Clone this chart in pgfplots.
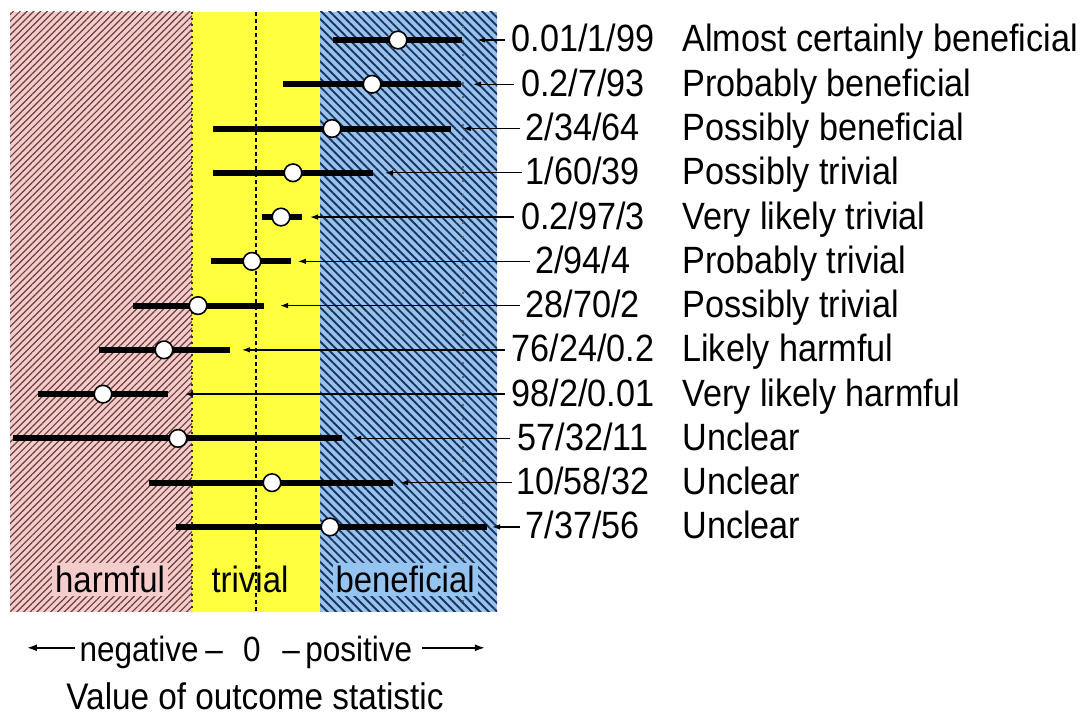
\documentclass[border=0pt]{standalone}
\usepackage{fontspec}
\setmainfont{Liberation Sans}
\newfontfamily\narrowfont[FakeStretch=0.9]{Liberation Sans}
\usepackage{pgfplots}
\pgfplotsset{compat=1.18}
\usepackage{pgfplotstable}
\usetikzlibrary{patterns.meta,arrows.meta}
\definecolor{pinkc}{RGB}{244,204,204}
\definecolor{pinkh}{RGB}{110,60,60}
\definecolor{yelc}{RGB}{255,255,64}
\definecolor{bluec}{RGB}{150,196,240}
\definecolor{blueh}{RGB}{30,50,90}

% row, lower limit, point estimate, upper limit (units of smallest important effect)
\pgfplotstableread{
row lo pt hi start du
1 1.203 2.219 3.219 3.89 -0.437
2 0.422 1.813 3.203 4.03 -0.639
3 -0.672 1.188 3.047 4.125 -0.891
4 -0.672 0.578 1.828 4.156 -2.140
5 0.094 0.391 0.719 4.03 -3.186
6 -0.703 -0.063 0.547 4.281 -3.625
7 -1.922 -0.906 0.125 4.125 -3.750
8 -2.453 -1.438 -0.406 3.89 -4.109
9 -3.406 -2.391 -1.375 3.89 -4.999
10 -3.797 -1.219 1.344 3.97 -2.454
11 -1.672 0.250 2.141 4.0 -1.750
12 -1.250 1.156 3.609 4.125 -0.437
}\ci

\begin{document}
\begin{tikzpicture}
\begin{axis}[
  scale only axis,
  width=243.5pt, height=300pt,
  xmin=-3.84375, xmax=3.765625,
  ymin=0.3675, ymax=13.921,
  y dir=reverse,
  axis lines=none,
  clip=false,
]
% bounding box of the whole figure
\path (axis cs:-4,0.0965) rectangle (axis cs:13.047,16.293);

% bands
\addplot[draw=none, fill=pinkc] coordinates {(-3.84375,0.3675) (-1,0.3675) (-1,13.921) (-3.84375,13.921)} -- cycle;
\addplot[draw=none, pattern={Lines[angle=45,distance=2.4pt,line width=0.6pt]}, pattern color=pinkh] coordinates {(-3.84375,0.3675) (-1,0.3675) (-1,13.921) (-3.84375,13.921)} -- cycle;
\addplot[draw=none, fill=yelc] coordinates {(-1,0.3675) (1,0.3675) (1,13.921) (-1,13.921)} -- cycle;
\addplot[draw=none, fill=bluec] coordinates {(1,0.3675) (3.765625,0.3675) (3.765625,13.921) (1,13.921)} -- cycle;
\addplot[draw=none, pattern={Lines[angle=-45,distance=3pt,line width=0.95pt]}, pattern color=blueh] coordinates {(1,0.3675) (3.765625,0.3675) (3.765625,13.921) (1,13.921)} -- cycle;

% reference lines
\addplot[black, line width=0.6pt, dash pattern=on 2pt off 1.5pt] coordinates {(0,0.3675) (0,13.921)};
\addplot[black!80, line width=0.6pt, dash pattern=on 1pt off 2pt] coordinates {(-1,0.3675) (-1,13.921)};
\addplot[black!60, line width=0.6pt, dash pattern=on 1pt off 6pt] coordinates {(3.234,0.3675) (3.234,13.921)};

% band labels
\begin{scope}[every node/.style={inner sep=1.5pt, anchor=base, font=\narrowfont\fontsize{18.3}{20}\selectfont}]
\node[fill=pinkc] at (axis cs:-2.28,13.49) {harmful};
\node at (axis cs:-0.094,13.49) {trivial};
\node[fill=bluec] at (axis cs:2.33,13.49) {beneficial};
\end{scope}

% arrows from labels
\addplot[black, line width=0.65pt, quiver={u=\thisrow{du}, v=0}, -{Latex[length=4pt,width=2.8pt]}] table[x=start, y=row] {\ci};

% confidence intervals and point estimates
\addplot[only marks, mark=*, mark size=4.4pt,
  mark options={fill=white, draw=black, line width=0.8pt},
  error bars/.cd, x dir=both, x explicit, error mark=none,
  error bar style={line width=3pt, black}]
  table[x=pt, y=row, x error plus expr=\thisrow{hi}-\thisrow{pt}, x error minus expr=\thisrow{pt}-\thisrow{lo}] {\ci};

% right-hand labels
\begin{scope}[every node/.style={font=\narrowfont\fontsize{19}{22}\selectfont, inner sep=0pt}]
\node[anchor=base] at (axis cs:5.109,1.271) {0.01/1/99};
\node[anchor=base] at (axis cs:5.109,2.271) {0.2/7/93};
\node[anchor=base] at (axis cs:5.109,3.271) {2/34/64};
\node[anchor=base] at (axis cs:5.109,4.271) {1/60/39};
\node[anchor=base] at (axis cs:5.109,5.271) {0.2/97/3};
\node[anchor=base] at (axis cs:5.109,6.271) {2/94/4};
\node[anchor=base] at (axis cs:5.109,7.271) {28/70/2};
\node[anchor=base] at (axis cs:5.109,8.271) {76/24/0.2};
\node[anchor=base] at (axis cs:5.109,9.271) {98/2/0.01};
\node[anchor=base] at (axis cs:5.109,10.271) {57/32/11};
\node[anchor=base] at (axis cs:5.109,11.271) {10/58/32};
\node[anchor=base] at (axis cs:5.109,12.271) {7/37/56};
\node[anchor=base west] at (axis cs:6.656,1.271) {Almost certainly beneficial};
\node[anchor=base west] at (axis cs:6.656,2.271) {Probably beneficial};
\node[anchor=base west] at (axis cs:6.656,3.271) {Possibly beneficial};
\node[anchor=base west] at (axis cs:6.656,4.271) {Possibly trivial};
\node[anchor=base west] at (axis cs:6.656,5.271) {Very likely trivial};
\node[anchor=base west] at (axis cs:6.656,6.271) {Probably trivial};
\node[anchor=base west] at (axis cs:6.656,7.271) {Possibly trivial};
\node[anchor=base west] at (axis cs:6.656,8.271) {Likely harmful};
\node[anchor=base west] at (axis cs:6.656,9.271) {Very likely harmful};
\node[anchor=base west] at (axis cs:6.656,10.271) {Unclear};
\node[anchor=base west] at (axis cs:6.656,11.271) {Unclear};
\node[anchor=base west] at (axis cs:6.656,12.271) {Unclear};
\end{scope}

% x-axis description
\begin{scope}[every node/.style={font=\narrowfont\fontsize{17.5}{19}\selectfont, inner sep=0pt}]
\node[anchor=base east] at (axis cs:-0.89,15.05) {negative};
\node[anchor=base] at (axis cs:-0.656,15.05) {–};
\node[anchor=base] at (axis cs:-0.0625,15.05) {0};
\node[anchor=base] at (axis cs:0.547,15.05) {–};
\node[anchor=base west] at (axis cs:0.766,15.05) {positive};
\end{scope}
\draw[line width=0.9pt, -{Latex[length=5pt,width=3.5pt]}] (axis cs:-2.83,14.73) -- (axis cs:-3.58,14.73);
\draw[line width=0.9pt, -{Latex[length=5pt,width=3.5pt]}] (axis cs:2.594,14.73) -- (axis cs:3.578,14.73);
\node[anchor=base, inner sep=0pt, font=\narrowfont\fontsize{18.5}{20}\selectfont] at (axis cs:-0.016,16.134) {Value of outcome statistic};
\end{axis}
\end{tikzpicture}
\end{document}
